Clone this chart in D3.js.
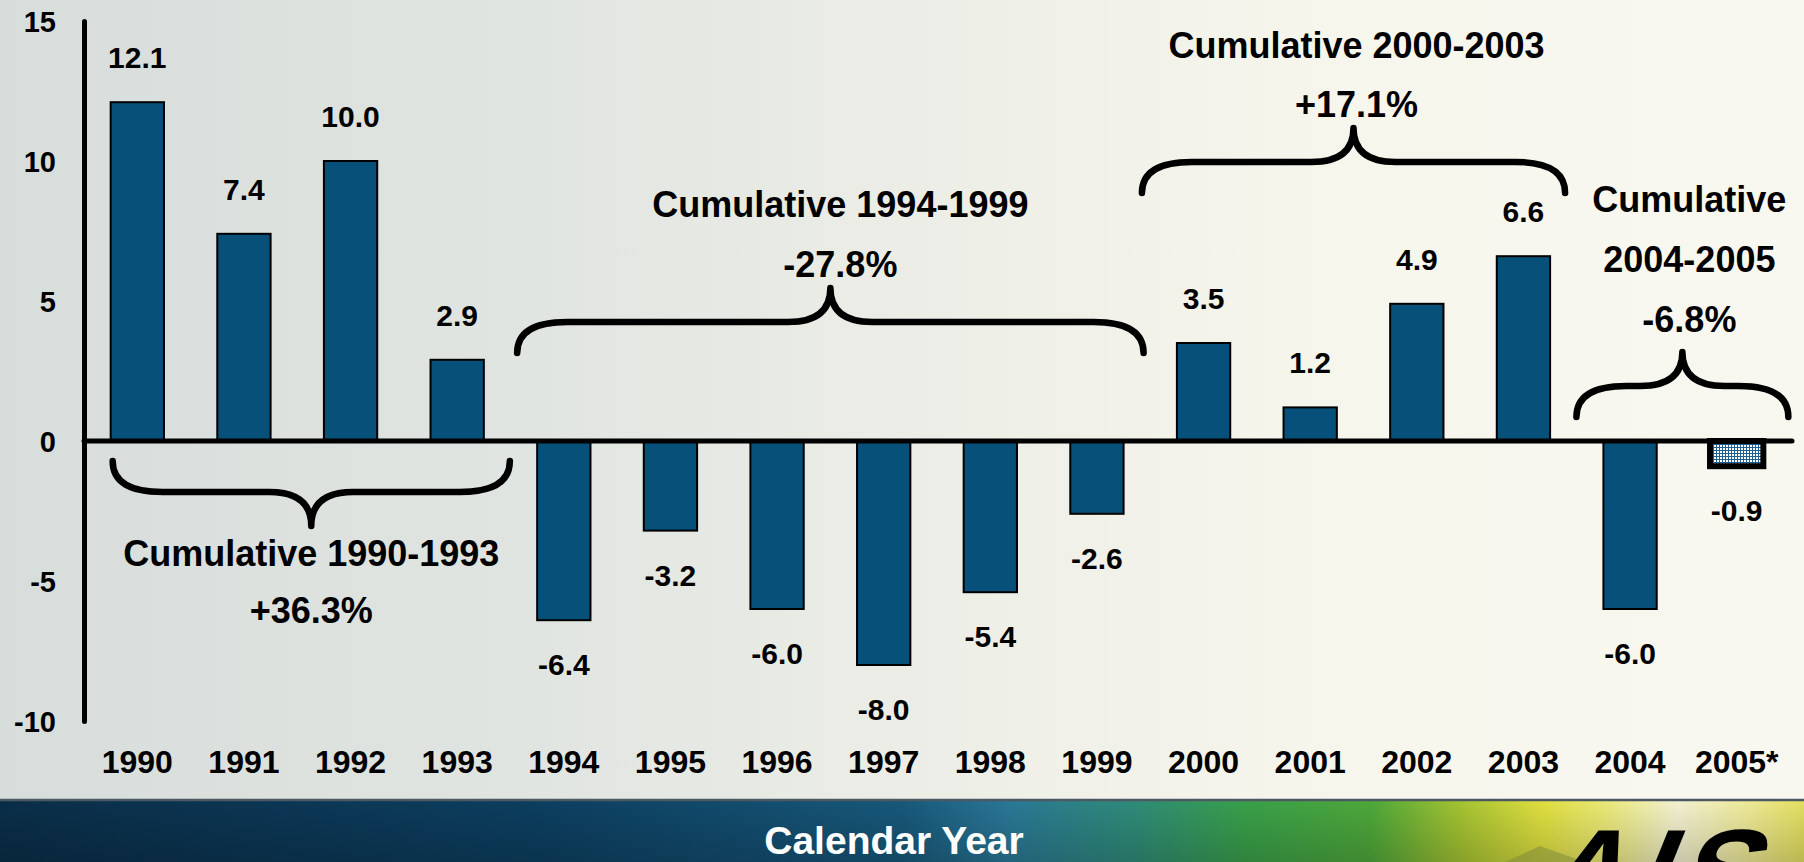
<!DOCTYPE html>
<html lang="en">
<head>
<meta charset="utf-8">
<script src="https://d3js.org/d3.v7.min.js"></script>
<style>
  html, body { margin: 0; padding: 0; background: #e6e8e2; }
  svg { display: block; }
  text { font-family: "Liberation Sans", Arial, sans-serif; font-weight: bold; }
</style>
</head>
<body>
<div id="chart"></div>
<script>
// chart values
var years = ["1990", "1991", "1992", "1993", "1994", "1995", "1996", "1997",
             "1998", "1999", "2000", "2001", "2002", "2003", "2004", "2005*"];
var values = [12.1, 7.4, 10.0, 2.9, -6.4, -3.2, -6.0, -8.0,
              -5.4, -2.6, 3.5, 1.2, 4.9, 6.6, -6.0, -0.9];
var yTicks = [15, 10, 5, 0, -5, -10];
var estimateYears = ["2005*"];          // drawn with the hatched fill
var xTitle = "Calendar Year";

// cumulative groups
var groupFirst = ["1990", "1994", "2000", "2004"];
var groupLast = ["1993", "1999", "2003", "2005*"];
var groupTitle = [["Cumulative 1990-1993"], ["Cumulative 1994-1999"],
                  ["Cumulative 2000-2003"], ["Cumulative", "2004-2005"]];
var groupChange = ["+36.3%", "-27.8%", "+17.1%", "-6.8%"];

// layout of the braces (not data)
var braceAt = [-0.71, 3.14, 8.86, 0.86];   // y value where the brace ends sit
var braceDir = [1, -1, -1, -1];            // 1 = tip down, -1 = tip up
var bracePadL = [2, -20, -35, -27];
var bracePadR = [26, 20, 15, 25];
var labelGap = [40, -11, -11, -20];
var lineGap = [57, 60, 59, 60];
var labelDx = [0, 10, 3, 7];

var width = 1804, height = 862;
var barColor = "#07507a";

// plain hyphen for negatives, like the slide
var fmt1 = function(v) { return v.toFixed(1); };
var fmt0 = function(v) { return String(v); };

var svg = d3.select("#chart").append("svg")
    .attr("width", width)
    .attr("height", height);

var defs = svg.append("defs");

// slide background
var bg = defs.append("linearGradient").attr("id", "bg");
[[0, "#d7dddb"], [0.3, "#e1e5e1"], [0.55, "#eeefe7"], [0.75, "#f7f6ed"], [1, "#f9f8f0"]]
    .forEach(function(s) { bg.append("stop").attr("offset", s[0]).attr("stop-color", s[1]); });

var band = defs.append("linearGradient").attr("id", "band");
[[0, "#0a2e48"], [0.3, "#0c3f60"], [0.5, "#17587a"], [0.56, "#2a7896"], [0.63, "#2f8c78"],
 [0.69, "#39a04a"], [0.76, "#4ea83a"], [0.81, "#a6c432"], [0.855, "#e0e040"],
 [0.89, "#ebea78"], [0.93, "#f4f2d2"], [0.97, "#eeea96"], [1, "#e4e060"]]
    .forEach(function(s) { band.append("stop").attr("offset", s[0]).attr("stop-color", s[1]); });

var shade = defs.append("linearGradient").attr("id", "shade")
    .attr("x1", 0).attr("x2", 0).attr("y1", 0).attr("y2", 1);
shade.append("stop").attr("offset", 0).attr("stop-color", "#000").attr("stop-opacity", 0);
shade.append("stop").attr("offset", 1).attr("stop-color", "#000").attr("stop-opacity", 0.18);

var grid = defs.append("pattern").attr("id", "grid")
    .attr("patternUnits", "userSpaceOnUse")
    .attr("width", 3).attr("height", 3);
grid.append("rect").attr("width", 3).attr("height", 3).attr("fill", "#ffffff");
grid.append("rect").attr("width", 1).attr("height", 3).attr("fill", "#1f5f92");
grid.append("rect").attr("width", 3).attr("height", 1).attr("fill", "#1f5f92");

svg.append("rect").attr("width", width).attr("height", 799).attr("fill", "url(#bg)");

// bottom band
svg.append("rect").attr("y", 799).attr("width", width).attr("height", height - 799)
    .attr("fill", "url(#band)");
svg.append("rect").attr("y", 799).attr("width", width).attr("height", height - 799)
    .attr("fill", "url(#shade)");
svg.append("line").attr("x1", 0).attr("x2", width).attr("y1", 800).attr("y2", 800)
    .attr("stroke", "#4c5862").attr("stroke-width", 2.5);

svg.append("text")
    .attr("x", 894).attr("y", 854)
    .attr("text-anchor", "middle")
    .attr("fill", "#ffffff")
    .style("font-size", "39px")
    .text(xTitle);

// logo corner
svg.append("polygon")
    .attr("points", "1505,862 1540,846 1585,862")
    .attr("fill", "#7f8c3a").attr("opacity", 0.55);
svg.append("text")
    .attr("transform", "translate(1532,913) skewX(-22)")
    .attr("fill", "#000")
    .style("font-size", "120px")
    .style("letter-spacing", "8px")
    .text("AIS");

// scales
var x = d3.scaleBand()
    .domain(years)
    .range([84, 1790])
    .paddingInner(0.5)
    .paddingOuter(0.25);

var y = d3.scaleLinear()
    .domain([-10, 15])
    .range([721, 21]);

var data = years.map(function(d, i) { return { year: d, value: values[i] }; });

// bars
svg.append("g").selectAll("rect")
    .data(data)
    .enter()
    .append("rect")
    .attr("x", function(d) { return x(d.year); })
    .attr("width", x.bandwidth())
    .attr("y", function(d) { return y(Math.max(0, d.value)); })
    .attr("height", function(d) { return Math.abs(y(d.value) - y(0)); })
    .attr("fill", function(d) { return estimateYears.indexOf(d.year) >= 0 ? "url(#grid)" : barColor; })
    .attr("stroke", "#000")
    .attr("stroke-width", function(d) { return estimateYears.indexOf(d.year) >= 0 ? 6 : 2; });

// value labels
svg.append("g").selectAll("text")
    .data(data)
    .enter()
    .append("text")
    .attr("x", function(d) { return x(d.year) + x.bandwidth() / 2; })
    .attr("y", function(d) { return d.value >= 0 ? y(d.value) - 34 : y(d.value) + 55; })
    .attr("text-anchor", "middle")
    .attr("fill", "#000")
    .style("font-size", "30px")
    .text(function(d) { return fmt1(d.value); });

// zero line
svg.append("line")
    .attr("x1", x.range()[0]).attr("x2", x.range()[1] + 2)
    .attr("y1", y(0)).attr("y2", y(0))
    .attr("stroke", "#000")
    .attr("stroke-width", 5)
    .attr("stroke-linecap", "round");

// y axis
var yAxis = d3.axisLeft(y)
    .tickValues(yTicks)
    .tickSize(0)
    .tickPadding(28)
    .tickFormat(fmt0);

var gy = svg.append("g")
    .attr("transform", "translate(" + x.range()[0] + ",0)")
    .call(yAxis);
gy.select(".domain")
    .attr("stroke", "#000")
    .attr("stroke-width", 5)
    .attr("stroke-linecap", "round");
gy.selectAll("text")
    .attr("fill", "#000")
    .attr("dy", "0.35em")
    .style("font-size", "29px");

// x axis
var xAxis = d3.axisBottom(x).tickSize(0).tickPadding(0);
var gx = svg.append("g")
    .attr("transform", "translate(0,773)")
    .call(xAxis);
gx.select(".domain").remove();
gx.selectAll("text")
    .attr("y", 0)
    .attr("dy", null)
    .attr("fill", "#000")
    .style("font-size", "32px");

// braces and cumulative labels
function bracePath(xl, xr, yEnd, dir) {
    var yMid = yEnd + dir * 31,
        yTip = yMid + dir * 34,
        xm = (xl + xr) / 2,
        rE = 50, rT = 42;
    return "M" + xl + "," + yEnd +
        "Q" + xl + "," + yMid + " " + (xl + rE) + "," + yMid +
        "L" + (xm - rT) + "," + yMid +
        "Q" + xm + "," + yMid + " " + xm + "," + yTip +
        "M" + xr + "," + yEnd +
        "Q" + xr + "," + yMid + " " + (xr - rE) + "," + yMid +
        "L" + (xm + rT) + "," + yMid +
        "Q" + xm + "," + yMid + " " + xm + "," + yTip;
}

var ga = svg.append("g");
groupFirst.forEach(function(first, i) {
    var xl = x(first) + bracePadL[i],
        xr = x(groupLast[i]) + x.bandwidth() + bracePadR[i],
        yEnd = y(braceAt[i]),
        yTip = yEnd + braceDir[i] * 65,
        xm = (xl + xr) / 2;

    ga.append("path")
        .attr("d", bracePath(xl, xr, yEnd, braceDir[i]))
        .attr("fill", "none")
        .attr("stroke", "#000")
        .attr("stroke-width", 6.5)
        .attr("stroke-linecap", "round")
        .attr("stroke-linejoin", "round");

    var lines = groupTitle[i].concat([groupChange[i]]);
    var start = braceDir[i] > 0 ? yTip + labelGap[i]
                                : yTip + labelGap[i] - (lines.length - 1) * lineGap[i];
    lines.forEach(function(t, k) {
        ga.append("text")
            .attr("x", xm + labelDx[i])
            .attr("y", start + k * lineGap[i])
            .attr("text-anchor", "middle")
            .attr("fill", "#000")
            .style("font-size", "36px")
            .text(t);
    });
});
</script>
</body>
</html>
